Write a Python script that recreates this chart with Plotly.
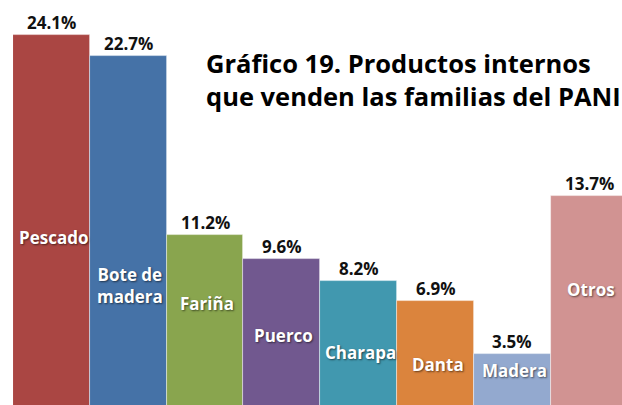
import plotly.graph_objects as go

# ---- data ----
categories = ["Pescado", "Bote de<br>madera", "Fariña", "Puerco", "Charapa", "Danta", "Madera", "Otros"]
values = [24.1, 22.7, 11.2, 9.6, 8.2, 6.9, 3.5, 13.7]
value_labels = ["24.1%", "22.7%", "11.2%", "9.6%", "8.2%", "6.9%", "3.5%", "13.7%"]

# ---- style ----
colors = ["#AA4643", "#4572A7", "#89A54E", "#71588F", "#4198AF", "#DB843D", "#93A9CF", "#D19392"]
# relative height (fraction of bar) where the category name sits inside the bar
name_frac = [0.458, 0.35, 0.606, 0.49, 0.44, 0.41, 0.705, 0.557]
FONT = "Open Sans"

x = list(range(len(values)))

fig = go.Figure()
fig.add_trace(go.Bar(
    x=x, y=values,
    marker=dict(color=colors, line=dict(color="rgba(255,255,255,0.55)", width=0.8)),
    width=1.0,
    hoverinfo="skip",
))

annotations = []
for i, (v, lab, cat, fr) in enumerate(zip(values, value_labels, categories, name_frac)):
    annotations.append(dict(
        x=i, y=v, xref="x", yref="y", text=lab, showarrow=False,
        yanchor="bottom", yshift=-1,
        font=dict(family=FONT, size=17, color="#111111", weight="bold"),
    ))
    annotations.append(dict(
        x=i, y=v * fr, xref="x", yref="y", text=cat, showarrow=False,
        yanchor="middle", xshift=2,
        font=dict(family=FONT, size=17, color="white", weight="bold",
                  shadow="1px 1px 2px rgba(0,0,0,0.55)"),
    ))

for line, ypx in (("Gráfico 19. Productos internos", 63), ("que venden las familias del PANI", 96)):
    annotations.append(dict(
        x=0.3136, y=1 - ypx / 405, xref="paper", yref="paper",
        text=line, showarrow=False,
        xanchor="left", yanchor="middle",
        font=dict(family=FONT, size=25.5, color="black", weight="bold"),
    ))

fig.update_layout(
    width=622, height=405,
    margin=dict(l=13, r=0, t=0, b=0),
    paper_bgcolor="white", plot_bgcolor="white",
    showlegend=False,
    bargap=0,
    xaxis=dict(range=[-0.5, 7.427], visible=False, fixedrange=True),
    yaxis=dict(range=[0.21, 26.34], visible=False, fixedrange=True),
    annotations=annotations,
)

fig.write_html(
    "out.html",
    config={"displayModeBar": False},
    post_script="document.body.style.margin='0';document.body.style.padding='0';document.body.style.overflow='hidden';",
)
